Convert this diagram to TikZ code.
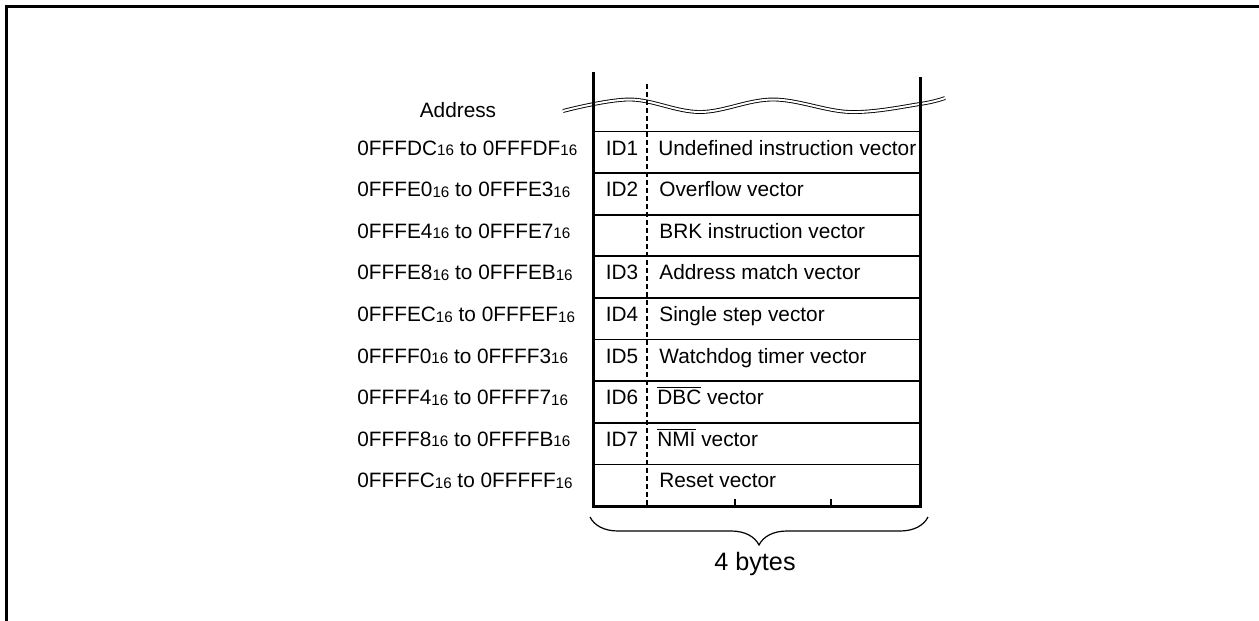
\documentclass[tikz,border=0pt]{standalone}
\usepackage{fontspec}
\setmainfont{Liberation Sans}
\usetikzlibrary{decorations.pathreplacing}
\newcommand{\hexs}{\raisebox{-0.3pt}{\fontsize{7.6}{8}\selectfont 16}}
\begin{document}
\begin{tikzpicture}[x=0.5pt, y=-0.5pt, every node/.style={inner sep=0, font=\fontsize{10.4}{12}\selectfont},
  addr/.style={anchor=base west}, idl/.style={anchor=base}, vec/.style={anchor=base west}]
\useasboundingbox (0,0) rectangle (1259,621);
\draw[line width=1.5pt] (6.5,621) -- (6.5,6.5) -- (1259,6.5);

\draw[double, double distance=1pt, line width=0.45pt] plot[smooth, tension=0.6] coordinates {(563,111) (630,99.5) (700,112) (773,99.5) (850,112) (920,104) (945,98)};

\draw[line width=0.9pt] (593,131.5) -- (920,131.5);
\draw[line width=0.9pt] (593,173.1) -- (920,173.1);
\draw[line width=0.9pt] (593,214.7) -- (920,214.7);
\draw[line width=0.9pt] (593,256.3) -- (920,256.3);
\draw[line width=0.9pt] (593,297.9) -- (920,297.9);
\draw[line width=0.9pt] (593,339.5) -- (920,339.5);
\draw[line width=0.9pt] (593,381.1) -- (920,381.1);
\draw[line width=0.9pt] (593,422.7) -- (920,422.7);
\draw[line width=0.7pt] (593,464.3) -- (920,464.3);
\draw[dash pattern=on 2.5pt off 1.5pt, line width=0.6pt] (647,84) -- (647,506);
\draw[line width=0.6pt] (735,506) -- (735,499);
\draw[line width=0.6pt] (831,506) -- (831,499);
\draw[line width=1.5pt] (593,72) -- (593,506) -- (920,506) -- (920,77);

\draw[decorate, decoration={brace, mirror, amplitude=14pt}, line width=0.6pt] (590,517) -- (928,517);
\node[idl, font=\fontsize{12.6}{14}\selectfont] (bytes) at (755,570) {4 bytes};

\node[idl] (addr) at (458,117) {Address};
\node[addr] (a1) at (357,155) {0FFFDC\hexs{} to 0FFFDF\hexs};
\node[addr] (a2) at (357,196.6) {0FFFE0\hexs{} to 0FFFE3\hexs};
\node[addr] (a3) at (357,238.2) {0FFFE4\hexs{} to 0FFFE7\hexs};
\node[addr] (a4) at (357,279.8) {0FFFE8\hexs{} to 0FFFEB\hexs};
\node[addr] (a5) at (357,321.4) {0FFFEC\hexs{} to 0FFFEF\hexs};
\node[addr] (a6) at (357,363) {0FFFF0\hexs{} to 0FFFF3\hexs};
\node[addr] (a7) at (357,404.6) {0FFFF4\hexs{} to 0FFFF7\hexs};
\node[addr] (a8) at (357,446.2) {0FFFF8\hexs{} to 0FFFFB\hexs};
\node[addr] (a9) at (357,487.8) {0FFFFC\hexs{} to 0FFFFF\hexs};

\node[idl] (id1) at (622,155) {ID1};
\node[idl] (id2) at (622,196.6) {ID2};
\node[idl] (id3) at (622,279.8) {ID3};
\node[idl] (id4) at (622,321.4) {ID4};
\node[idl] (id5) at (622,363) {ID5};
\node[idl] (id6) at (622,404.6) {ID6};
\node[idl] (id7) at (622,446.2) {ID7};

\node[vec] (v1) at (658,155) {Undefined instruction vector};
\node[vec] (v2) at (659,196.6) {Overflow vector};
\node[vec] (v3) at (659,238.2) {BRK instruction vector};
\node[vec] (v4) at (659,279.8) {Address match vector};
\node[vec] (v5) at (659,321.4) {Single step vector};
\node[vec] (v6) at (659,363) {Watchdog timer vector};
\node[vec] (v7) at (657,404.6) {$\overline{\mbox{DBC}}$ vector};
\node[vec] (v8) at (657,446.2) {$\overline{\mbox{NMI}}$ vector};
\node[vec] (v9) at (659,487.8) {Reset vector};
\end{tikzpicture}
\end{document}
